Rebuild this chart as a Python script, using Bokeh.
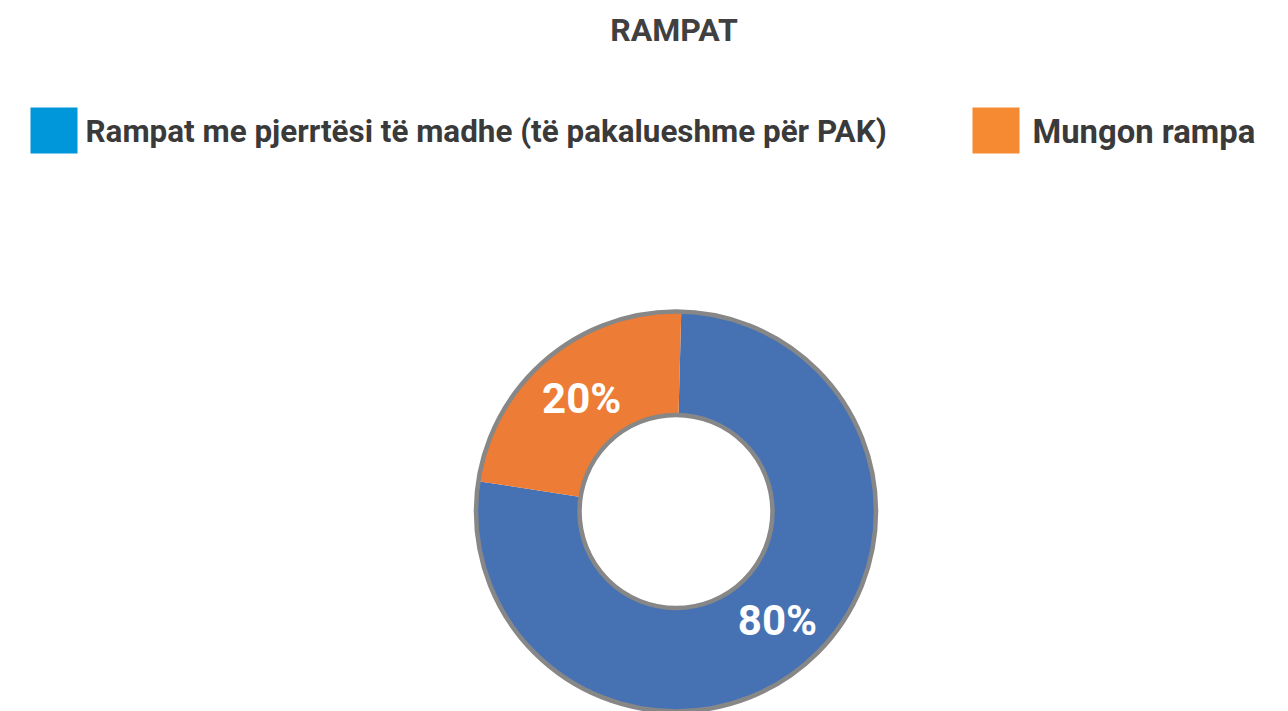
import math
from bokeh.plotting import figure
from bokeh.models import Range1d, ColumnDataSource
from bokeh.core.properties import value
from bokeh.embed import file_html
from bokeh.resources import INLINE

# ---- data ----
title_text = "RAMPAT"
categories = ["Rampat me pjerrtësi të madhe (të pakalueshme për PAK)", "Mungon rampa"]
shares = [77, 23]            # slice sizes as drawn
labels = ["80%", "20%"]      # printed data labels
slice_colors = ["#4672B4", "#EC7C36"]
legend_colors = ["#0096DA", "#F58A33"]

W, H = 1280, 711
FONT = "Roboto"

def sx(x):  # screen px -> data x
    return x

def sy(y):  # screen px -> data y
    return H - y

p = figure(width=W, height=H, output_backend="svg", toolbar_location=None,
           x_range=Range1d(0, W), y_range=Range1d(0, H), min_border=0)
p.axis.visible = False
p.grid.visible = False
p.outline_line_color = None
p.background_fill_color = "white"
p.border_fill_color = "white"

# ---- donut ----
cx, cy = sx(675.5), sy(511)
r_out, r_in = 200.0, 96.5
start = math.radians(88.5)
total = sum(shares)
starts, ends, mids = [], [], []
a = start
for s in shares:
    span = 2 * math.pi * s / total
    # clockwise from the top
    starts.append(a - span)
    ends.append(a)
    mids.append(a - span / 2)
    a -= span

src = ColumnDataSource(dict(x=[cx] * len(shares), y=[cy] * len(shares),
                            start=starts, end=ends, color=slice_colors))
p.annular_wedge(x="x", y="y", inner_radius=r_in, outer_radius=r_out,
                start_angle="start", end_angle="end", fill_color="color",
                line_color=None, source=src)
p.circle(x=[cx, cx], y=[cy, cy], radius=[r_out, r_in], fill_color=None,
         line_color="#878787", line_width=4.5)

lr = [149, 147]
shift = [math.radians(3), math.radians(0)]   # label placement tweaks
lsrc = ColumnDataSource(dict(
    x=[cx + r * math.cos(m + s) for m, r, s in zip(mids, lr, shift)],
    y=[cy + r * math.sin(m + s) for m, r, s in zip(mids, lr, shift)],
    t=labels))
p.text(x="x", y="y", text="t", source=lsrc, text_color="white",
       text_font=value(FONT), text_font_style="bold", text_font_size="42px",
       text_align="center", text_baseline="middle")

# ---- title ----
p.text(x=[sx(673.5)], y=[sy(29)], text=[title_text], text_color="#404040",
       text_font=value(FONT), text_font_style="bold", text_font_size="32px",
       text_align="center", text_baseline="alphabetic")

# ---- legend ----
sq_x = [sx(53.5), sx(995.5)]
sq_y = [sy(130), sy(130)]
p.rect(x=sq_x, y=sq_y, width=47, height=46, fill_color=legend_colors, line_color=None)
p.text(x=[sx(85)], y=[sy(131)], text=[categories[0]],
       text_color="#3A3A3A", text_font=value(FONT), text_font_style="bold",
       text_font_size="31.4px", text_align="left", text_baseline="alphabetic")
p.text(x=[sx(1032)], y=[sy(131)], text=[categories[1]],
       text_color="#3A3A3A", text_font=value(FONT), text_font_style="bold",
       text_font_size="32.8px", text_align="left", text_baseline="alphabetic")

open("out.html", "w").write(file_html(p, INLINE))
